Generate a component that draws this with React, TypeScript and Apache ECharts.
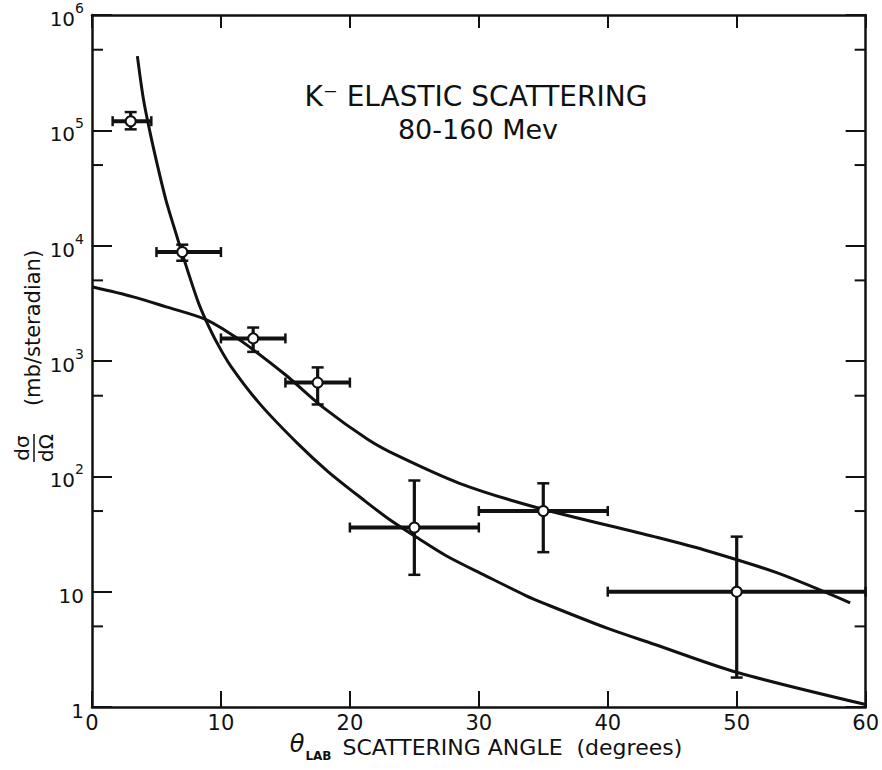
import React, { useEffect, useRef } from "react";
import * as echarts from "echarts";

// ---- data ----
const pointX = [3, 7, 12.5, 17.5, 25, 35, 50];
const pointY = [1.2e5, 8.8e3, 1.57e3, 650, 36, 50, 10];
const pointXLow = [1.6, 5, 10, 15, 20, 30, 40];
const pointXHigh = [4.6, 10, 15, 20, 30, 40, 60];
const pointYLow = [1.02e5, 7.4e3, 1.2e3, 420, 14, 22, 1.8];
const pointYHigh = [1.44e5, 1.02e4, 1.95e3, 880, 92, 87, 30];

const curveAX = [3.52, 3.99, 4.51, 5.09, 5.73, 6.5, 7.09, 8.17, 8.8, 9.75, 10.8, 13, 16, 18.3, 21.1, 23.1, 25.3, 27.5, 30.5, 33.6, 35.2, 40, 43.6, 50, 60];
const curveAY = [4.4e5, 1.86e5, 9.5e4, 4.9e4, 2.5e4, 1.29e4, 7.9e3, 3.4e3, 2.3e3, 1.4e3, 890, 427, 190, 110, 62, 42, 29, 20.4, 13.8, 9.3, 7.8, 4.8, 3.5, 2.0, 1.05];

const curveBX = [0, 3.2, 5.75, 8.8, 10.4, 12, 15, 18, 21.4, 23.7, 28.5, 34.4, 43.6, 47.5, 53.1, 58.8];
const curveBY = [4.4e3, 3.6e3, 2.95e3, 2.3e3, 1.82e3, 1.38e3, 760, 390, 209, 151, 87, 54, 30, 23, 14.6, 8];

const minorTickValues = [5, 50, 500, 5000, 50000, 500000];

const xTickLabels = ["0", "10", "20", "30", "40", "50", "60"];

const titleLine1 = "K⁻ ELASTIC SCATTERING";
const titleLine2 = "80-160 Mev";

const FONT = "DejaVu Sans";
const INK = "#111";

export default function App() {
  const ref = useRef<HTMLDivElement>(null);

  useEffect(() => {
    if (!ref.current) return;
    const chart = echarts.init(ref.current, null, { renderer: "svg" });

    const pairs = (xs: number[], ys: number[]) => xs.map((x, i) => [x, ys[i]]);
    const errData = pointX.map((x, i) => [x, pointY[i], pointXLow[i], pointXHigh[i], pointYLow[i], pointYHigh[i]]);

    const axisLineStyle = { color: INK, width: 2.5 };

    const option: any = {
      animation: false,
      backgroundColor: "#fff",
      grid: { left: 92, right: 11, top: 15, bottom: 63, containLabel: false },
      xAxis: [
        {
          type: "value",
          min: 0,
          max: 60,
          interval: 10,
          position: "bottom",
          axisLine: { show: true, onZero: false, lineStyle: axisLineStyle },
          axisTick: { show: true, inside: true, length: 16, lineStyle: { color: INK, width: 2 } },
          axisLabel: {
            show: true,
            margin: 5,
            color: INK,
            fontSize: 21,
            fontFamily: FONT,
            formatter: (v: number) => xTickLabels[Math.round(v / 10)] ?? String(v),
          },
          splitLine: { show: false },
        },
        {
          type: "value",
          min: 0,
          max: 60,
          interval: 10,
          position: "top",
          axisLine: { show: true, onZero: false, lineStyle: axisLineStyle },
          axisTick: { show: true, inside: true, length: 13, lineStyle: { color: INK, width: 2 } },
          axisLabel: { show: false },
          splitLine: { show: false },
        },
      ],
      yAxis: [
        {
          type: "log",
          logBase: 10,
          min: 1,
          max: 1e6,
          interval: 1,
          splitNumber: 6,
          position: "left",
          axisLine: { show: true, onZero: false, lineStyle: axisLineStyle },
          axisTick: { show: true, inside: true, length: 20, lineStyle: { color: INK, width: 2 } },
          axisLabel: {
            show: true,
            margin: 8,
            color: INK,
            fontSize: 20,
            fontFamily: FONT,
            formatter: (v: number) => {
              const e = Math.round(Math.log10(v));
              if (e === 0) return "{b|1}";
              if (e === 1) return "{b|10}";
              return "{b|10}{s|" + e + "}";
            },
            rich: {
              b: { fontSize: 20, fontFamily: FONT, color: INK, lineHeight: 28, verticalAlign: "bottom" },
              s: { fontSize: 14, fontFamily: FONT, color: INK, lineHeight: 28, verticalAlign: "top" },
            },
          },
          splitLine: { show: false },
        },
        {
          type: "log",
          logBase: 10,
          min: 1,
          max: 1e6,
          interval: 1,
          splitNumber: 6,
          position: "right",
          axisLine: { show: true, onZero: false, lineStyle: axisLineStyle },
          axisTick: { show: true, inside: true, length: 20, lineStyle: { color: INK, width: 2 } },
          axisLabel: { show: false },
          splitLine: { show: false },
        },
      ],
      series: [
        {
          type: "line",
          name: "curveA",
          data: pairs(curveAX, curveAY),
          smooth: 0.3,
          showSymbol: false,
          clip: true,
          lineStyle: { color: INK, width: 3 },
          z: 2,
        },
        {
          type: "line",
          name: "curveB",
          data: pairs(curveBX, curveBY),
          smooth: 0.3,
          showSymbol: false,
          clip: true,
          lineStyle: { color: INK, width: 3 },
          z: 2,
        },
        {
          type: "custom",
          name: "minorTicks",
          data: minorTickValues.map((v) => [0, v]),
          encode: { x: 0, y: 1 },
          silent: true,
          z: 3,
          renderItem: (params: any, api: any) => {
            const left = api.coord([0, api.value(1)]);
            const right = api.coord([60, api.value(1)]);
            return {
              type: "group",
              children: [
                { type: "line", shape: { x1: left[0], y1: left[1], x2: left[0] + 11, y2: left[1] }, style: { stroke: INK, lineWidth: 2 } },
                { type: "line", shape: { x1: right[0] - 11, y1: right[1], x2: right[0], y2: right[1] }, style: { stroke: INK, lineWidth: 2 } },
              ],
            };
          },
        },
        {
          type: "custom",
          name: "data",
          data: errData,
          encode: { x: 0, y: 1 },
          z: 5,
          renderItem: (params: any, api: any) => {
            const c = api.coord([api.value(0), api.value(1)]);
            const l = api.coord([api.value(2), api.value(1)]);
            const r = api.coord([api.value(3), api.value(1)]);
            const b = api.coord([api.value(0), api.value(4)]);
            const t = api.coord([api.value(0), api.value(5)]);
            const st = { stroke: INK, lineWidth: 4 };
            const cap = { stroke: INK, lineWidth: 2.5 };
            return {
              type: "group",
              children: [
                { type: "line", shape: { x1: l[0], y1: c[1], x2: r[0], y2: c[1] }, style: st },
                { type: "line", shape: { x1: l[0], y1: c[1] - 5, x2: l[0], y2: c[1] + 5 }, style: cap },
                { type: "line", shape: { x1: r[0], y1: c[1] - 5, x2: r[0], y2: c[1] + 5 }, style: cap },
                { type: "line", shape: { x1: c[0], y1: t[1], x2: c[0], y2: b[1] }, style: { stroke: INK, lineWidth: 3.2 } },
                { type: "line", shape: { x1: c[0] - 6, y1: t[1], x2: c[0] + 6, y2: t[1] }, style: cap },
                { type: "line", shape: { x1: c[0] - 6, y1: b[1], x2: c[0] + 6, y2: b[1] }, style: cap },
                { type: "circle", shape: { cx: c[0], cy: c[1], r: 5 }, style: { fill: "#fff", stroke: INK, lineWidth: 2 } },
              ],
            };
          },
        },
      ],
      graphic: [
        {
          type: "text",
          style: { text: titleLine1, x: 476, y: 96, align: "center", verticalAlign: "middle", fontSize: 28, fontFamily: FONT, fill: INK },
        },
        {
          type: "text",
          style: { text: titleLine2, x: 478, y: 129, align: "center", verticalAlign: "middle", fontSize: 27, fontFamily: FONT, fill: INK },
        },
        {
          type: "text",
          style: {
            text: "{t|θ}{s|LAB} SCATTERING ANGLE  (degrees)",
            x: 486,
            y: 747,
            align: "center",
            verticalAlign: "middle",
            fontSize: 22,
            fontFamily: FONT,
            fill: INK,
            rich: {
              t: { fontSize: 24, fontStyle: "italic", fontFamily: FONT, fill: INK, lineHeight: 30, verticalAlign: "top" },
              s: { fontSize: 12, fontWeight: "bold", fontFamily: FONT, fill: INK, lineHeight: 30, verticalAlign: "bottom", padding: [0, 4, 0, 1] },
            },
          },
        },
        {
          type: "text",
          rotation: Math.PI / 2,
          x: 33,
          y: 328,
          style: { text: "(mb/steradian)", align: "center", verticalAlign: "middle", fontSize: 21, fontFamily: FONT, fill: INK },
        },
        {
          type: "text",
          rotation: Math.PI / 2,
          x: 22,
          y: 448,
          style: { text: "dσ", align: "center", verticalAlign: "middle", fontSize: 20, fontFamily: FONT, fill: INK },
        },
        {
          type: "text",
          rotation: Math.PI / 2,
          x: 46,
          y: 448,
          style: { text: "dΩ", align: "center", verticalAlign: "middle", fontSize: 20, fontFamily: FONT, fill: INK },
        },
        {
          type: "line",
          shape: { x1: 34, y1: 434, x2: 34, y2: 462 },
          style: { stroke: INK, lineWidth: 1.5 },
        },
      ],
    };

    chart.setOption(option);
    return () => chart.dispose();
  }, []);

  return <div ref={ref} style={{ position: "absolute", left: 0, top: 0, width: 882, height: 770, background: "#fff" }} />;
}
